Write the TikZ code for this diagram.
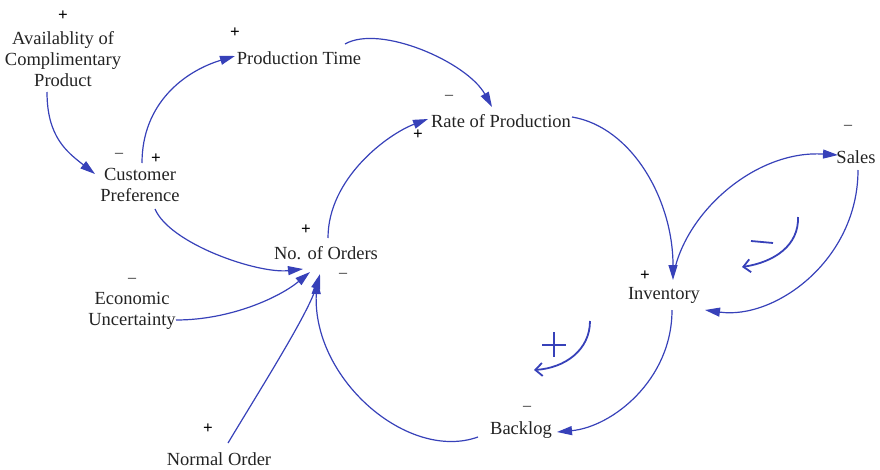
\documentclass[tikz,border=0pt]{standalone}
\usepackage{fontspec}
\setmainfont{Liberation Serif}
\usetikzlibrary{arrows.meta}
\definecolor{linkblue}{RGB}{55,65,185}
\definecolor{inkgray}{RGB}{35,35,35}
\begin{document}
\begin{tikzpicture}[x=1pt,y=-1pt,
  var/.style={font=\fontsize{18.5}{21}\selectfont, align=center, inner sep=0pt, text=inkgray},
  plussign/.style={font=\fontsize{17}{17}\selectfont\bfseries, inner sep=0pt, text=black},
  minussign/.style={font=\fontsize{16}{16}\selectfont, inner sep=0pt, text=inkgray},
  link/.style={draw=linkblue, line width=1.2pt, -{Triangle[length=15pt,width=9pt]}},
  loopmark/.style={draw=linkblue, line width=1.8pt, -{Straight Barb[length=7pt,width=13pt]}},
  loopsign/.style={draw=linkblue, line width=1.8pt}
]
\useasboundingbox (0,0) rectangle (880,469);

% variables
\node[var] (avail)   at (63,59)   {Availablity of\\Complimentary\\Product};
\node[var] (ptime)   at (299,58)  {Production Time};
\node[var] (cust)    at (140,185) {Customer\\Preference};
\node[var] (rate)    at (501,121) {Rate of Production};
\node[var] (orders)  at (326,253) {No. of Orders};
\node[var] (econ)    at (132,311) {Economic\\Uncertainty};
\node[var] (normal)  at (219,459) {Normal Order};
\node[var] (inv)     at (664,295) {Inventory};
\node[var] (sales)   at (856,157) {Sales};
\node[var] (backlog) at (521,430) {Backlog};

% polarity signs
\node[plussign]  (sAvail) at (63,16)  {+};
\node[plussign]  (sPtime) at (235,33) {+};
\node[minussign] (sCustA) at (119,155) {–};
\node[plussign]  (sCustB) at (156,159) {+};
\node[minussign] (sRateA) at (449,97)  {–};
\node[plussign]  (sRateB) at (418,135) {+};
\node[plussign]  (sOrdA)  at (306,230) {+};
\node[minussign] (sOrdB)  at (343,275) {–};
\node[minussign] (sEcon)  at (132,280) {–};
\node[plussign]  (sNorm)  at (208,429) {+};
\node[plussign]  (sInv)   at (645,276) {+};
\node[minussign] (sSales) at (848,127) {–};
\node[minussign] (sBack)  at (527,408) {–};

% causal links
\draw[link] ([shift={(-16,33)}]avail.center) .. controls +(0,45) and +(-28,-22) .. ([shift={(-45,-11)}]cust.center);
\draw[link] ([shift={(2,-22)}]cust.center) .. controls +(0,-60) and +(-50,15) .. ([shift={(-64,-2)}]ptime.center);
\draw[link] ([shift={(46,-14)}]ptime.center) .. controls +(35,-20) and +(-25,-45) .. ([shift={(-9,-14)}]rate.center);
\draw[link] ([shift={(2,-15)}]orders.center) .. controls +(0,-60) and +(-40,15) .. ([shift={(-73,-2)}]rate.center);
\draw[link] ([shift={(71,-4)}]rate.center) .. controls +(60,10) and +(0,-80) .. ([shift={(9,-15)}]inv.center);
\draw[link] ([shift={(8,15)}]inv.center) .. controls +(0,70) and +(55,-5) .. ([shift={(36,2)}]backlog.center);
\draw[link] ([shift={(-43,7)}]backlog.center) .. controls +(-70,25) and +(-5,100) .. ([shift={(-9,26)}]orders.center);
\draw[link] ([shift={(15,24)}]cust.center) .. controls +(15,35) and +(-45,5) .. ([shift={(-23,16)}]orders.center);
\draw[link] ([shift={(44,9)}]econ.center) .. controls +(55,0) and +(-30,25) .. ([shift={(-16,19)}]orders.center);
\draw[link] ([shift={(9,-16)}]normal.center) .. controls +(30,-50) and +(-12,40) .. ([shift={(-6,21)}]orders.center);
\draw[link] ([shift={(11,-27)}]inv.center) .. controls +(15,-60) and +(-80,-5) .. ([shift={(-18,-2)}]sales.center);
\draw[link] ([shift={(2,13)}]sales.center) .. controls +(0,90) and +(70,10) .. ([shift={(41,15)}]inv.center);

% loop markers
\draw[loopmark] (798,217) .. controls (799,245) and (775,262) .. (742,267);
\draw[loopsign] (751,241) -- (773,243);
\draw[loopmark] (590,321) .. controls (590,350) and (565,368) .. (534,370);
\draw[loopsign] (542,345) -- (566,345) (554,332) -- (554,357);
\end{tikzpicture}
\end{document}
